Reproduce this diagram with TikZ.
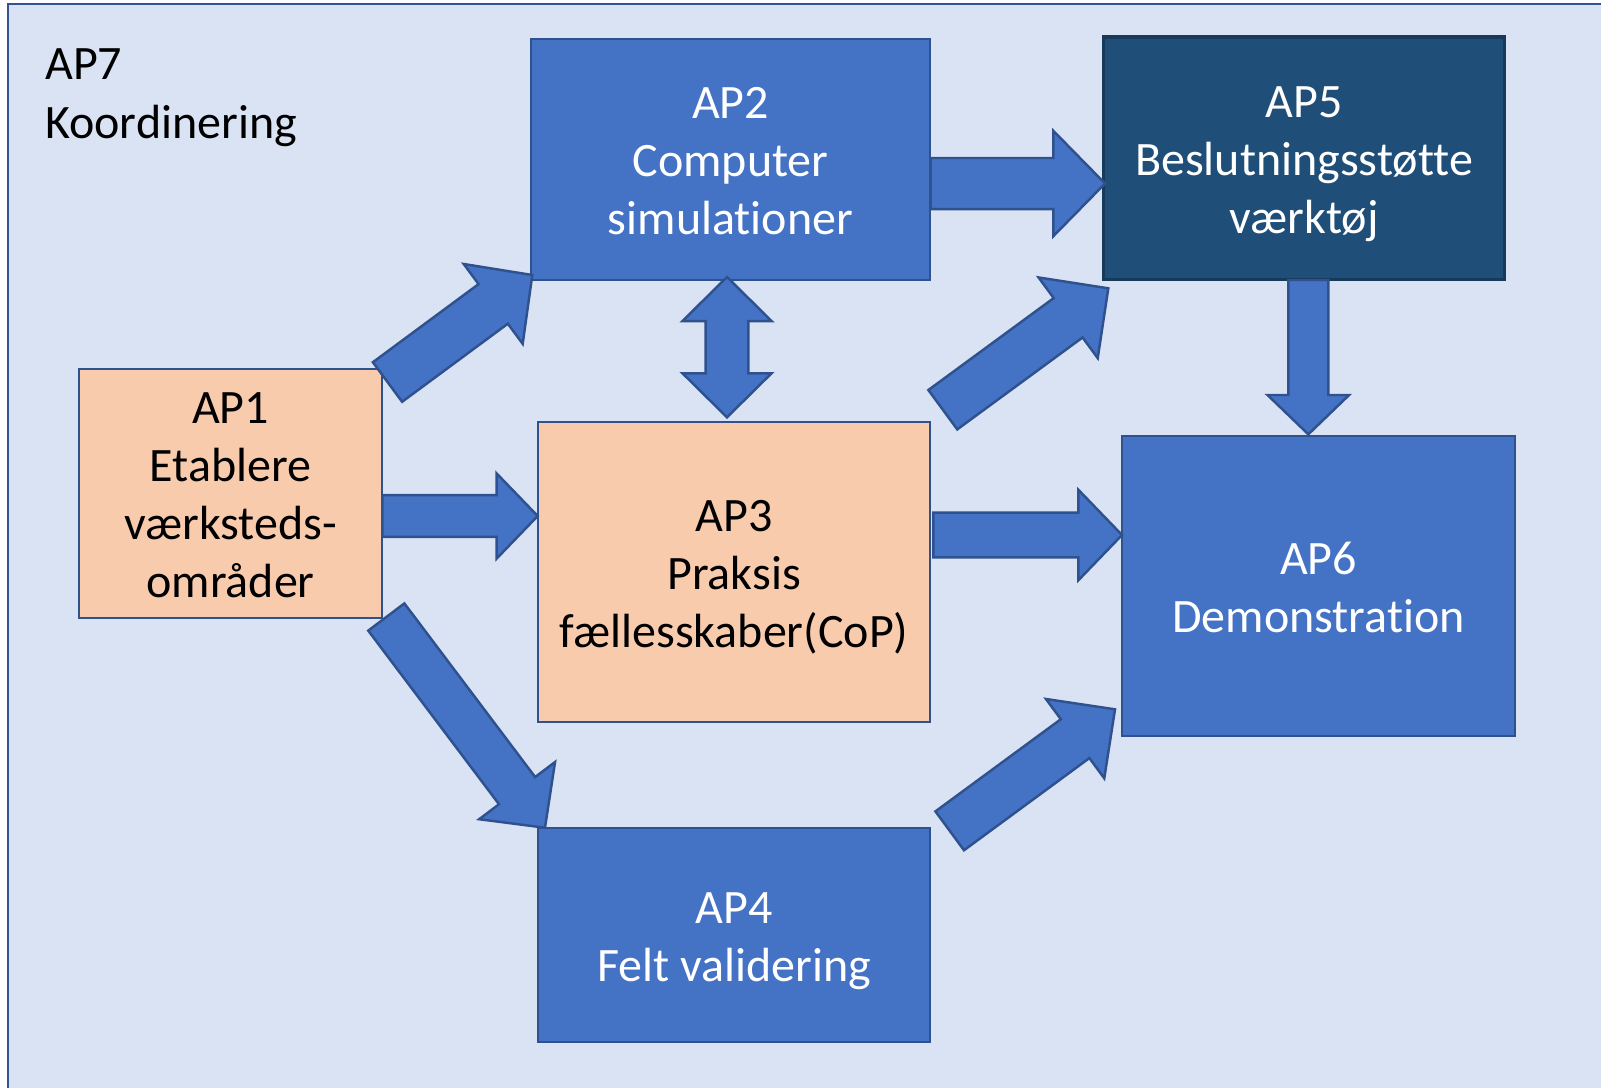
\documentclass[tikz,border=0pt]{standalone}
\usepackage{fontspec}
\setmainfont{Carlito}[Ligatures=NoCommon]
\usetikzlibrary{calc}
\definecolor{bgblue}{HTML}{DAE3F3}
\definecolor{frameblue}{HTML}{2F5597}
\definecolor{accent}{HTML}{4472C4}
\definecolor{accentdark}{HTML}{2F528F}
\definecolor{navy}{HTML}{1F4E79}
\definecolor{navyborder}{HTML}{17395A}
\definecolor{peach}{HTML}{F8CBAD}
\newcommand\boxfont{\fontsize{13.65pt}{16.5pt}\selectfont}
\newcommand\lsa{\rule[-3.6pt]{0pt}{17.04pt}}
\newcommand\ls{\rule[-3.6pt]{0pt}{15.9pt}}
\tikzset{
  box/.style={draw=accentdark, line width=0.6pt, fill=accent, text=white, align=center, inner sep=0pt, font=\boxfont},
  peachbox/.style={box, fill=peach, text=black},
  navybox/.style={box, fill=navy, draw=navyborder, line width=0.9pt},
  barrow/.style={draw=accentdark, fill=accent, line width=0.7pt, line join=miter},
  framebox/.style={draw=frameblue, fill=bgblue, line width=0.6pt},
  titletext/.style={anchor=west, align=left, inner sep=0pt, font=\boxfont, text=black},
}
% block arrow: #1 start, #2 tip, #3 half shaft, #4 half head, #5 head length
\newcommand\blockarrow[5]{%
  \path ($(#2)!#5!(#1)$) coordinate (bq);
  \draw[barrow] ($(#1)!#3!90:(#2)$) -- ($(bq)!#3!90:(#2)$) -- ($(bq)!#4!90:(#2)$) -- (#2)
    -- ($(bq)!#4!-90:(#2)$) -- ($(bq)!#3!-90:(#2)$) -- ($(#1)!#3!-90:(#2)$) -- cycle;}
% double block arrow: #1 tip a, #2 tip b, #3 half shaft, #4 half head, #5 head length
\newcommand\doubleblockarrow[5]{%
  \path ($(#1)!#5!(#2)$) coordinate (dqa) ($(#2)!#5!(#1)$) coordinate (dqb);
  \draw[barrow] (#1) -- ($(dqa)!#4!90:(#2)$) -- ($(dqa)!#3!90:(#2)$) -- ($(dqb)!#3!-90:(#1)$)
    -- ($(dqb)!#4!-90:(#1)$) -- (#2) -- ($(dqb)!#4!90:(#1)$) -- ($(dqb)!#3!90:(#1)$)
    -- ($(dqa)!#3!-90:(#2)$) -- ($(dqa)!#4!-90:(#2)$) -- cycle;}
\begin{document}
\begin{tikzpicture}[x=0.01cm, y=-0.01cm]
\useasboundingbox (0,0) rectangle (1601,1087);
\clip (0,0) rectangle (1601,1087);
\fill[white] (0,0) rectangle (1601,1087);
\draw[framebox] (8,4) rectangle (1640,1120);
\node[titletext] (ap7) at (44.6,93.7) {\ls AP7\\\ls Koordinering};

\node[peachbox, minimum width=3.03cm, minimum height=2.49cm] (ap1) at (230.5,493.5) {\lsa AP1\\\ls Etablere\\\ls værksteds-\\\ls områder};
\node[box, minimum width=3.99cm, minimum height=2.41cm] (ap2) at (730.5,159.5) {\lsa AP2\\\ls Computer\\\ls simulationer};
\node[peachbox, minimum width=3.92cm, minimum height=3.00cm] (ap3) at (734,572) {\lsa AP3\\\ls Praksis\\\ls fællesskaber(CoP)};
\node[box, minimum width=3.92cm, minimum height=2.14cm] (ap4) at (734,935) {\lsa AP4\\\ls Felt validering};
\node[navybox, minimum width=4.00cm, minimum height=2.42cm] (ap5) at (1304,158) {\lsa AP5\\\ls Beslutningsstøtte\\\ls værktøj};
\node[box, minimum width=3.93cm, minimum height=3.00cm] (ap6) at (1318.5,586) {\lsa AP6\\\ls Demonstration};

\coordinate (a12s) at (387.5,382);   \coordinate (a12e) at (532.3,275);
\coordinate (a25s) at (930.7,183.5); \coordinate (a25e) at (1105,183.5);
\coordinate (a13s) at (382.3,516);   \coordinate (a13e) at (537.7,516);
\coordinate (a35s) at (942.8,409.7); \coordinate (a35e) at (1108.3,288.3);
\coordinate (a36s) at (933.3,535);   \coordinate (a36e) at (1122,535);
\coordinate (a56s) at (1308.3,280);  \coordinate (a56e) at (1308.3,434.3);
\coordinate (a14s) at (386.3,617);   \coordinate (a14e) at (545,827.7);
\coordinate (a46s) at (949.7,830.8); \coordinate (a46e) at (1115,709.3);
\coordinate (a23a) at (727,277);     \coordinate (a23b) at (727,417.3);

\blockarrow{a12s}{a12e}{0.246cm}{0.496cm}{0.486cm}
\blockarrow{a25s}{a25e}{0.255cm}{0.527cm}{0.517cm}
\blockarrow{a13s}{a13e}{0.208cm}{0.425cm}{0.41cm}
\blockarrow{a35s}{a35e}{0.244cm}{0.50cm}{0.498cm}
\blockarrow{a36s}{a36e}{0.223cm}{0.453cm}{0.437cm}
\blockarrow{a56s}{a56e}{0.20cm}{0.408cm}{0.393cm}
\blockarrow{a14s}{a14e}{0.226cm}{0.475cm}{0.464cm}
\blockarrow{a46s}{a46e}{0.241cm}{0.492cm}{0.495cm}
\doubleblockarrow{a23a}{a23b}{0.213cm}{0.445cm}{0.44cm}
\end{tikzpicture}
\end{document}
